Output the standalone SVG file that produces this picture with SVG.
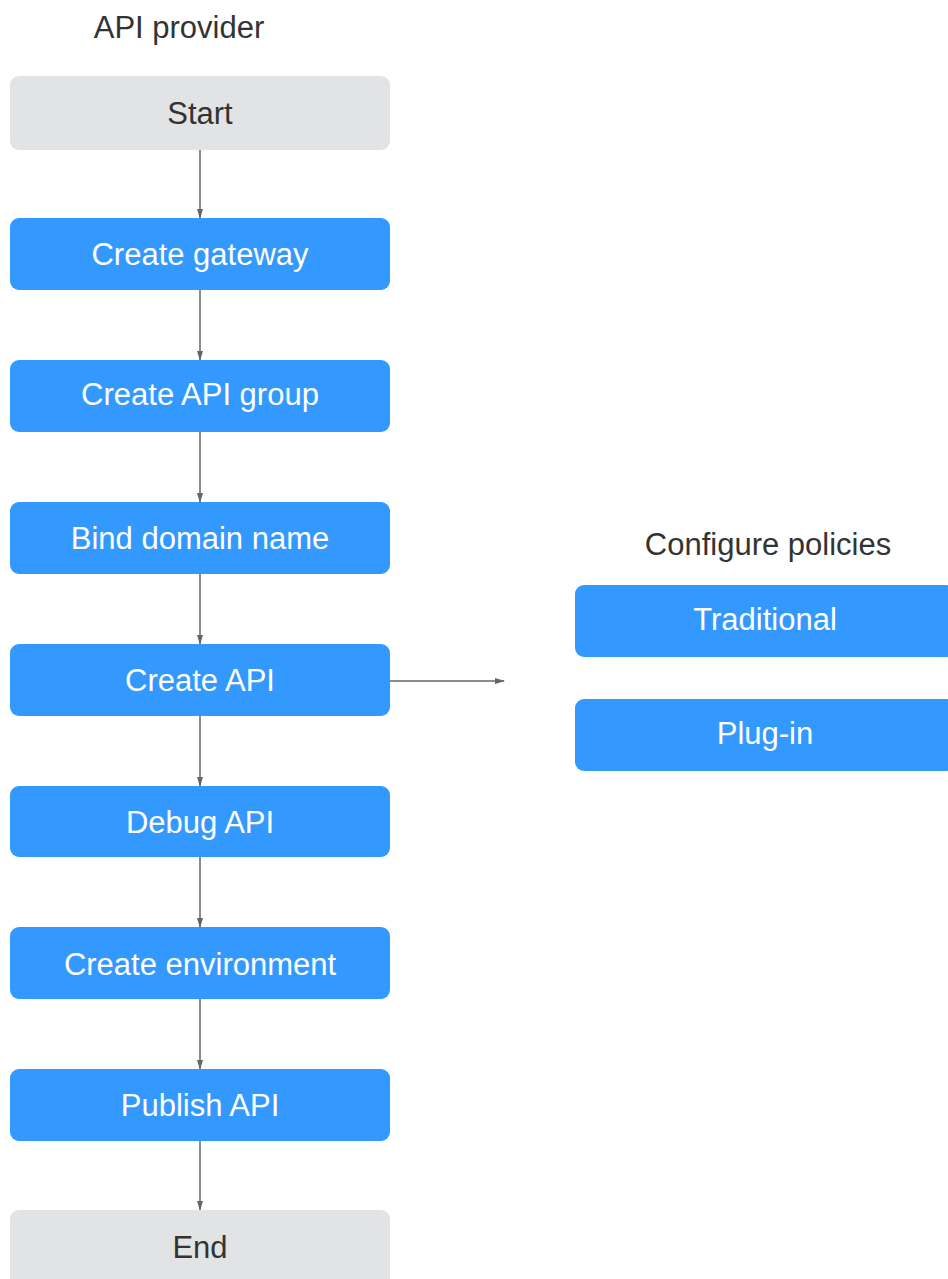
<svg xmlns="http://www.w3.org/2000/svg" width="948" height="1279" viewBox="0 0 948 1279">
<defs>
<style>
.blue{fill:#3399ff}
.gray{fill:#e1e3e5}
.wt{fill:#ffffff;font-family:"Liberation Sans",Arial,sans-serif;font-size:31px;text-anchor:middle}
.dt{fill:#333333;font-family:"Liberation Sans",Arial,sans-serif;font-size:31px;text-anchor:middle}
.ln{stroke:#666666;stroke-width:1.5;fill:none}
</style>
<marker id="ah" markerWidth="10" markerHeight="8" refX="9" refY="4" orient="auto" markerUnits="userSpaceOnUse">
<path d="M0,1 L10,4 L0,7 Z" fill="#666666"/>
</marker>
</defs>
<rect width="948" height="1279" fill="#ffffff"/>
<text class="dt" x="179" y="38">API provider</text>
<text class="dt" x="768" y="555">Configure policies</text>
<g id="connectors">
<line class="ln" x1="200" y1="150" x2="200" y2="218" marker-end="url(#ah)"/>
<line class="ln" x1="200" y1="290" x2="200" y2="360" marker-end="url(#ah)"/>
<line class="ln" x1="200" y1="432" x2="200" y2="502" marker-end="url(#ah)"/>
<line class="ln" x1="200" y1="574" x2="200" y2="644" marker-end="url(#ah)"/>
<line class="ln" x1="200" y1="716" x2="200" y2="786" marker-end="url(#ah)"/>
<line class="ln" x1="200" y1="857" x2="200" y2="927" marker-end="url(#ah)"/>
<line class="ln" x1="200" y1="999" x2="200" y2="1069" marker-end="url(#ah)"/>
<line class="ln" x1="200" y1="1141" x2="200" y2="1210" marker-end="url(#ah)"/>
<line class="ln" x1="390" y1="681" x2="504" y2="681" marker-end="url(#ah)"/>
</g>
<g id="start"><rect class="gray" x="10" y="76" width="380" height="74" rx="9"/><text class="dt" x="200" y="124">Start</text></g>
<g id="create-gateway"><rect class="blue" x="10" y="218" width="380" height="72" rx="9"/><text class="wt" x="200" y="265">Create gateway</text></g>
<g id="create-api-group"><rect class="blue" x="10" y="360" width="380" height="72" rx="9"/><text class="wt" x="200" y="405">Create API group</text></g>
<g id="bind-domain-name"><rect class="blue" x="10" y="502" width="380" height="72" rx="9"/><text class="wt" x="200" y="549">Bind domain name</text></g>
<g id="create-api"><rect class="blue" x="10" y="644" width="380" height="72" rx="9"/><text class="wt" x="200" y="691">Create API</text></g>
<g id="debug-api"><rect class="blue" x="10" y="786" width="380" height="71" rx="9"/><text class="wt" x="200" y="833">Debug API</text></g>
<g id="create-environment"><rect class="blue" x="10" y="927" width="380" height="72" rx="9"/><text class="wt" x="200" y="975">Create environment</text></g>
<g id="publish-api"><rect class="blue" x="10" y="1069" width="380" height="72" rx="9"/><text class="wt" x="200" y="1116">Publish API</text></g>
<g id="end"><rect class="gray" x="10" y="1210" width="380" height="80" rx="9"/><text class="dt" x="200" y="1258">End</text></g>
<g id="traditional"><rect class="blue" x="575" y="585" width="380" height="72" rx="9"/><text class="wt" x="765" y="630">Traditional</text></g>
<g id="plug-in"><rect class="blue" x="575" y="699" width="380" height="72" rx="9"/><text class="wt" x="765" y="744">Plug-in</text></g>
</svg>
